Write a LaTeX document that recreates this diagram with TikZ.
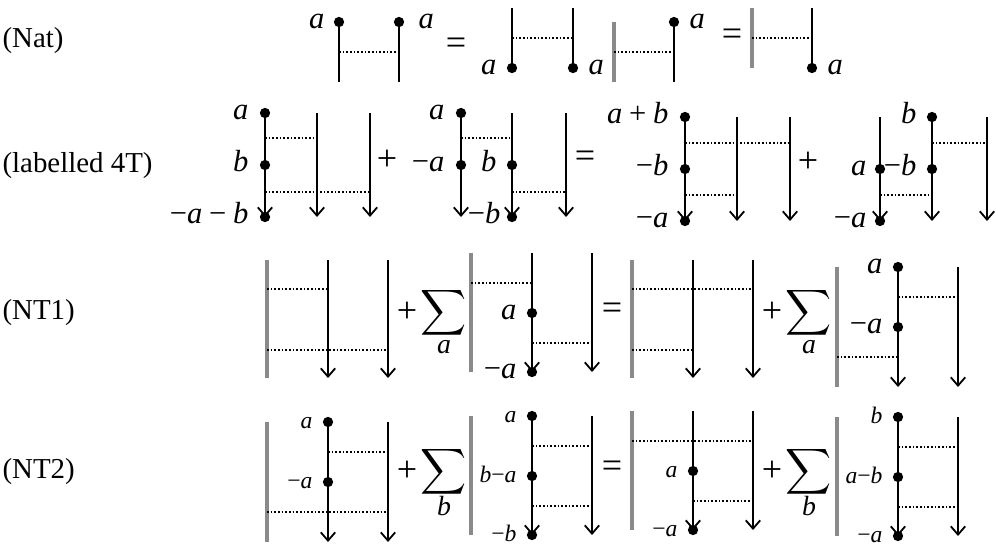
\documentclass[tikz,border=0pt]{standalone}
\usepackage{fontspec}
\setmainfont{Liberation Serif}
\usetikzlibrary{arrows.meta}
\definecolor{barGray}{HTML}{8A8A8A}
\newcommand\mneg{\char"2212\relax}
\newcommand\bsp{\hspace{0.22em}}
\newcommand\mi[1]{\textit{#1}}
\tikzset{
  strandline/.style={line width=0.75pt},
  arrowstrand/.style={strandline, -{Straight Barb[length=3pt,width=5.2pt,line width=0.65pt]}},
  graybar/.style={line width=1.6pt, draw=barGray},
  dotline/.style={line width=0.9pt, line cap=butt, dash pattern=on 0.6pt off 0.72pt},
  vdot/.style={circle, fill=black, inner sep=0pt, minimum size=3.7pt},
  lab/.style={inner sep=0pt, anchor=mid east, font=\fontsize{11}{12}\selectfont},
  labr/.style={inner sep=0pt, anchor=mid west, font=\fontsize{11}{12}\selectfont},
  slab/.style={inner sep=0pt, anchor=mid east, font=\fontsize{8.5}{9}\selectfont},
  opnode/.style={inner sep=0pt, font=\fontsize{13}{14}\selectfont},
  sumnode/.style={inner sep=0pt, scale=1.15},
  subnode/.style={inner sep=0pt, font=\fontsize{10}{11}\selectfont},
  rowtitle/.style={inner sep=0pt, anchor=west, font=\fontsize{10.4}{12}\selectfont},
}
% helpers: x, ytop, ybottom
\newcommand\pstrand[3]{\draw[strandline] (#1,#2) -- (#1,#3);}
\newcommand\astrand[3]{\draw[arrowstrand] (#1,#2) -- (#1,#3);}
\newcommand\gbar[3]{\draw[graybar] (#1,#2) -- (#1,#3);}
% x1, x2, y
\newcommand\hdot[3]{\draw[dotline] (#1,#3) -- (#2,#3);}
\newcommand\vd[2]{\node[vdot] at (#1,#2) {};}
\newcommand\labl[3]{\node[lab] at (#1,#2) {#3};}
\newcommand\labw[3]{\node[labr] at (#1,#2) {#3};}
\newcommand\slabl[3]{\node[slab] at (#1,#2) {#3};}
\begin{document}
\begin{tikzpicture}[x=0.36pt,y=-0.36pt]
\useasboundingbox (0,0) rectangle (996,545);

% row titles
\node[rowtitle] (tnat) at (2,41) {(Nat)};
\node[rowtitle] (t4t) at (2,166) {(labelled 4T)};
\node[rowtitle] (tnt1) at (2,313) {(NT1)};
\node[rowtitle] (tnt2) at (2,472) {(NT2)};

% ===== Row 1 (Nat)
\pstrand{339}{22}{82} \vd{339}{22} \labl{325}{22}{\mi{a}}
\pstrand{399}{22}{82} \vd{399}{22} \labw{418}{22}{\mi{a}}
\hdot{339}{399}{52}
\node[opnode] (eq1) at (456,46) {=};
\pstrand{512}{8}{68} \vd{512}{68} \labl{497}{68}{\mi{a}}
\pstrand{573}{8}{68} \vd{573}{68} \labw{588}{68}{\mi{a}}
\hdot{512}{573}{38}
\gbar{614}{22}{82}
\pstrand{674}{22}{82} \vd{674}{22} \labw{689}{22}{\mi{a}}
\hdot{614}{674}{52}
\node[opnode] (eq2) at (732,37) {=};
\gbar{752}{8}{68}
\pstrand{812}{8}{68} \vd{812}{68} \labw{827}{68}{\mi{a}}
\hdot{752}{812}{38}

% ===== Row 2 (labelled 4T)
% A
\astrand{265}{113}{217} \vd{265}{113} \vd{265}{165} \vd{265}{217}
\labl{249}{113}{\mi{a}} \labl{249}{165}{\mi{b}} \labl{249}{217}{\mneg\mi{a}\bsp\mneg\bsp\mi{b}}
\astrand{317}{113}{217}
\astrand{370}{113}{217}
\hdot{265}{317}{138}
\hdot{265}{370}{192}
\node[opnode] (pl1) at (387,160) {+};
% B
\astrand{461}{113}{217} \vd{461}{113} \vd{461}{165}
\labl{445}{113}{\mi{a}} \labl{445}{165}{\mneg\mi{a}}
\astrand{512}{113}{217} \vd{512}{165} \vd{512}{217}
\labl{497}{165}{\mi{b}} \labl{501}{217}{\mneg\mi{b}}
\astrand{566}{113}{217}
\hdot{461}{512}{138}
\hdot{512}{566}{192}
\node[opnode] (eq3) at (585,159) {=};
% C
\astrand{685}{117}{221} \vd{685}{117} \vd{685}{169} \vd{685}{221}
\labl{669}{117}{\mi{a}\bsp+\bsp\mi{b}} \labl{669}{169}{\mneg\mi{b}} \labl{669}{221}{\mneg\mi{a}}
\astrand{737}{117}{221}
\astrand{790}{117}{221}
\hdot{685}{790}{143}
\hdot{685}{737}{195}
\node[opnode] (pl2) at (808,162) {+};
% D
\astrand{880}{117}{221} \vd{880}{169} \vd{880}{221}
\labl{867}{169}{\mi{a}} \labl{867}{221}{\mneg\mi{a}}
\astrand{932}{117}{221} \vd{932}{117} \vd{932}{169}
\labl{917}{117}{\mi{b}} \labl{917}{169}{\mneg\mi{b}}
\astrand{987}{117}{221}
\hdot{932}{987}{143}
\hdot{880}{932}{195}

% ===== Row 3 (NT1)
% E
\gbar{267}{260}{378}
\astrand{328}{260}{378}
\astrand{388}{260}{378}
\hdot{267}{328}{289}
\hdot{267}{388}{350}
\node[opnode] (pl3) at (407,312) {+};
\node[sumnode] (sum1) at (444,313) {$\displaystyle\sum$};
\node[subnode] (sub1) at (444,347) {\mi{a}};
% F
\gbar{471}{253}{372}
\astrand{532}{253}{372} \vd{532}{313} \vd{532}{372}
\labl{517}{313}{\mi{a}} \labl{517}{372}{\mneg\mi{a}}
\astrand{592}{253}{372}
\hdot{471}{532}{283}
\hdot{532}{592}{343}
\node[opnode] (eq4) at (612,311) {=};
% G
\gbar{632}{260}{378}
\astrand{693}{260}{378}
\astrand{753}{260}{378}
\hdot{632}{753}{289}
\hdot{632}{693}{350}
\node[opnode] (pl4) at (772,312) {+};
\node[sumnode] (sum2) at (809,313) {$\displaystyle\sum$};
\node[subnode] (sub2) at (809,347) {\mi{a}};
% H
\gbar{837}{267}{387}
\astrand{898}{267}{387} \vd{898}{267} \vd{898}{327}
\labl{883}{267}{\mi{a}} \labl{883}{327}{\mneg\mi{a}}
\astrand{958}{267}{387}
\hdot{898}{958}{297}
\hdot{837}{898}{357}

% ===== Row 4 (NT2)
% I
\gbar{267}{422}{542}
\astrand{328}{422}{542} \vd{328}{422} \vd{328}{482}
\slabl{313}{422}{\mi{a}} \slabl{313}{482}{\mneg\mi{a}}
\astrand{388}{422}{542}
\hdot{328}{388}{452}
\hdot{267}{388}{512}
\node[opnode] (pl5) at (407,471) {+};
\node[sumnode] (sum3) at (444,472) {$\displaystyle\sum$};
\node[subnode] (sub3) at (444,506) {\mi{b}};
% J
\gbar{471}{416}{535}
\astrand{532}{416}{535} \vd{532}{416} \vd{532}{476} \vd{532}{535}
\slabl{517}{416}{\mi{a}} \slabl{517}{476}{\mi{b}\mneg\mi{a}} \slabl{517}{535}{\mneg\mi{b}}
\astrand{592}{416}{535}
\hdot{532}{592}{446}
\hdot{532}{592}{506}
\node[opnode] (eq5) at (612,469) {=};
% K
\gbar{632}{411}{530}
\astrand{693}{411}{530} \vd{693}{471} \vd{693}{530}
\slabl{678}{471}{\mi{a}} \slabl{678}{530}{\mneg\mi{a}}
\astrand{753}{411}{530}
\hdot{632}{753}{441}
\hdot{693}{753}{501}
\node[opnode] (pl6) at (772,471) {+};
\node[sumnode] (sum4) at (809,472) {$\displaystyle\sum$};
\node[subnode] (sub4) at (809,506) {\mi{b}};
% L
\gbar{837}{417}{536}
\astrand{898}{417}{536} \vd{898}{417} \vd{898}{477} \vd{898}{536}
\slabl{883}{417}{\mi{b}} \slabl{883}{477}{\mi{a}\mneg\mi{b}} \slabl{883}{536}{\mneg\mi{a}}
\astrand{958}{417}{536}
\hdot{898}{958}{447}
\hdot{898}{958}{507}
\end{tikzpicture}
\end{document}
